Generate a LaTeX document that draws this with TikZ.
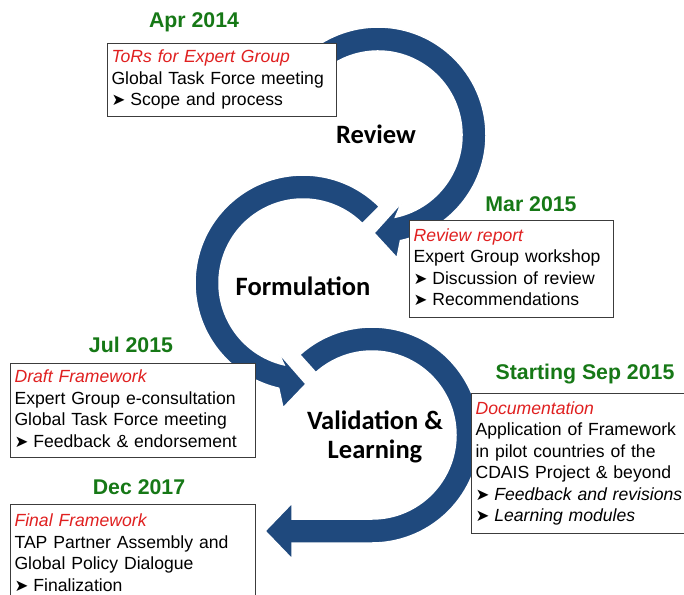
\documentclass[tikz,border=0pt]{standalone}
\usepackage{fontspec}
\setmainfont{Liberation Sans}
\newfontfamily\calibri{Carlito}
\newfontfamily\dejavu{DejaVu Sans}
\usetikzlibrary{calc}

\definecolor{arcblue}{RGB}{31,73,125}
\definecolor{headred}{RGB}{224,32,32}
\definecolor{dategreen}{RGB}{22,120,22}
\definecolor{boxgray}{RGB}{60,60,60}

\newcommand{\bul}{{\dejavu\fontsize{16.5}{16}\selectfont ➤}\hspace{5pt}}
\newcommand{\hd}[1]{\strut{\color{headred}\itshape #1}}

\tikzset{
  infobox/.style={draw=boxgray, line width=1.1pt, fill=white, anchor=north west,
    align=left, inner xsep=4pt, inner ysep=0pt,
    font=\fontsize{17.6}{21.5}\selectfont},
  datelbl/.style={text=dategreen, font=\fontsize{21.3}{24}\selectfont\bfseries},
  phase/.style={align=center, font=\calibri\fontsize{26.5}{29.5}\selectfont\bfseries},
  arcarrow/.style={fill=arcblue, draw=white, line width=1.5pt}
}

\begin{document}
\begin{tikzpicture}[x=1pt, y=-1pt]
\useasboundingbox (0,0) rectangle (684,594);
\clip (0,0) rectangle (684,594);

% 三个环形箭头
\begin{scope}[shift={(372,435)}]
\filldraw[arcarrow] (-132:108) arc[start angle=-132, end angle=90, radius=108]
  -- (-80,108) -- (-80,124) -- (-107,96) -- (-80,68) -- (-80,84)
  -- (90:84) arc[start angle=90, end angle=-132, radius=84] -- cycle;
\end{scope}
\begin{scope}[shift={(303,283)}]
\filldraw[arcarrow] (-45:108) arc[start angle=-45, end angle=-257, radius=108]
  -- (-20,125) -- (3,101) -- (-25,69)
  -- (-257:84) arc[start angle=-257, end angle=-45, radius=84] -- cycle;
\end{scope}
\begin{scope}[shift={(378,135)}]
\filldraw[arcarrow] (-140:108) arc[start angle=-140, end angle=78, radius=108]
  -- (19,123) -- (-4,98) -- (24,67)
  -- (78:84) arc[start angle=78, end angle=-140, radius=84] -- cycle;
\end{scope}

% 阶段名称
\node[phase] (review) at (376,134) {Review};
\node[phase] (formulation) at (303,286) {Formulation};
\node[phase] (validation) at (375,437) {Validation \&\\Learning};

% 日期
\node[datelbl] (apr) at (194,22) {Apr 2014};
\node[datelbl] (mar) at (531,204) {Mar 2015};
\node[datelbl] (jul) at (131,345) {Jul 2015};
\node[datelbl] (sep) at (585,374) {Starting Sep 2015};
\node[datelbl] (dec) at (139,487) {Dec 2017};

% 说明框
\node[infobox, text width=221pt, minimum height=73pt] (torbox) at (107,43)
  {\hd{ToRs for Expert Group}\\Global Task Force meeting\\\bul Scope and process\strut};
\node[infobox, text width=196pt, minimum height=97pt] (reviewbox) at (409,220)
  {\hd{Review report}\\Expert Group workshop\\\bul Discussion of review\\\bul Recommendations\strut};
\node[infobox, text width=237pt, minimum height=94pt] (draftbox) at (10,363)
  {\hd{Draft Framework}\\Expert Group e-consultation\\Global Task Force meeting\\\bul Feedback \& endorsement\strut};
\node[infobox, text width=240pt, minimum height=140pt] (docbox) at (471,393)
  {\hd{Documentation}\\Application of Framework\\in pilot countries of the\\CDAIS Project \& beyond\\\bul\textit{Feedback and revisions}\\\bul\textit{Learning modules}\strut};
\node[infobox, text width=237pt, minimum height=100pt] (finalbox) at (10,504)
  {\hd{Final Framework}\\TAP Partner Assembly and\\Global Policy Dialogue\\\bul Finalization\strut};
\end{tikzpicture}
\end{document}
